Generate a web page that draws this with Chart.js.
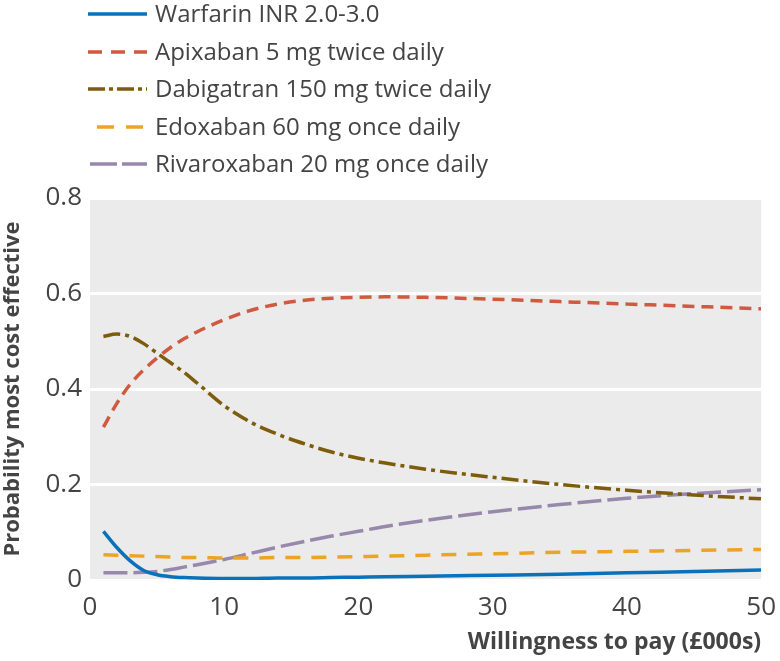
<!DOCTYPE html>
<html lang="en">
<head>
    <meta charset="UTF-8" />
    <title>Probability most cost effective</title>
    <script src="https://cdn.jsdelivr.net/npm/chart.js"></script>
    <style>
        html, body { margin: 0; padding: 0; background: #fff; }
        #wrap { width: 780px; height: 661px; }
    </style>
</head>
<body>
    <div id="wrap"><canvas id="ceacChart" width="780" height="661"></canvas></div>

    <script>
        // willingness to pay (£000s)
        const wtp = [1, 2, 3, 4, 5, 6, 7, 8, 10, 12, 14, 16, 18, 20, 22, 25, 30, 35, 40, 45, 50];

        const warfarin    = [0.102, 0.068, 0.040, 0.020, 0.011, 0.007, 0.005, 0.004, 0.003, 0.003, 0.004, 0.004, 0.005, 0.006, 0.007, 0.008, 0.010, 0.012, 0.015, 0.018, 0.021];
        const apixaban    = [0.320, 0.370, 0.410, 0.440, 0.465, 0.487, 0.505, 0.520, 0.545, 0.565, 0.578, 0.586, 0.590, 0.592, 0.593, 0.592, 0.588, 0.583, 0.578, 0.573, 0.568];
        const dabigatran  = [0.510, 0.515, 0.510, 0.495, 0.475, 0.455, 0.435, 0.412, 0.365, 0.330, 0.305, 0.285, 0.268, 0.255, 0.245, 0.232, 0.215, 0.200, 0.188, 0.178, 0.170];
        const edoxaban    = [0.053, 0.052, 0.051, 0.050, 0.049, 0.048, 0.047, 0.047, 0.046, 0.046, 0.047, 0.047, 0.048, 0.049, 0.050, 0.052, 0.055, 0.058, 0.060, 0.062, 0.064];
        const rivaroxaban = [0.015, 0.015, 0.015, 0.016, 0.018, 0.022, 0.027, 0.032, 0.043, 0.056, 0.069, 0.081, 0.092, 0.102, 0.112, 0.125, 0.143, 0.158, 0.171, 0.181, 0.189];

        const seriesLabels = [
            'Warfarin INR 2.0-3.0',
            'Apixaban 5 mg twice daily',
            'Dabigatran 150 mg twice daily',
            'Edoxaban 60 mg once daily',
            'Rivaroxaban 20 mg once daily'
        ];
        const seriesValues = [warfarin, apixaban, dabigatran, edoxaban, rivaroxaban];
        const yTicks = [0, 0.2, 0.4, 0.6, 0.8];
        const xTicks = [0, 10, 20, 30, 40, 50];

        const colors = ['#0a72bb', '#cf5a40', '#7d5c0c', '#eca426', '#9888ab'];
        const dashes = [[], [12, 7], [17, 5, 4, 5], [15, 11], [24, 6]];
        const legendDashes = [[], [14, 9], [17, 4, 4, 4], [17, 12], [27, 5]];
        const legendStart = [88, 88, 88, 97, 90];

        const textColor = '#444';
        const fontFamily = '"Open Sans", "Noto Sans", sans-serif';

        const datasets = seriesValues.map((vals, i) => ({
            label: seriesLabels[i],
            data: wtp.map((x, j) => ({ x: x, y: vals[j] })),
            borderColor: colors[i],
            borderDash: dashes[i],
            borderWidth: 3.5,
            pointRadius: 0,
            fill: false,
            cubicInterpolationMode: 'monotone'
        }));

        // grey panel behind the plot
        const panelBg = {
            id: 'panelBg',
            beforeDraw(chart) {
                const a = chart.chartArea;
                const ctx = chart.ctx;
                ctx.save();
                ctx.fillStyle = '#ebebeb';
                ctx.fillRect(a.left, a.top, a.right - a.left, a.bottom - a.top);
                ctx.restore();
            }
        };

        // stacked legend, one item per row
        const stackedLegend = {
            id: 'stackedLegend',
            afterDraw(chart) {
                const ctx = chart.ctx;
                const rowY = [14, 52, 89, 127, 164];
                ctx.save();
                ctx.font = '24px ' + fontFamily;
                ctx.textBaseline = 'middle';
                chart.data.datasets.forEach((ds, i) => {
                    ctx.strokeStyle = ds.borderColor;
                    ctx.lineWidth = 3.5;
                    ctx.setLineDash(legendDashes[i]);
                    ctx.beginPath();
                    ctx.moveTo(legendStart[i], rowY[i]);
                    ctx.lineTo(147, rowY[i]);
                    ctx.stroke();
                    ctx.setLineDash([]);
                    ctx.fillStyle = textColor;
                    ctx.fillText(ds.label, 155, rowY[i] + 1);
                });
                ctx.restore();
            }
        };

        new Chart(document.getElementById('ceacChart'), {
            type: 'line',
            data: { datasets: datasets },
            options: {
                responsive: false,
                animation: false,
                layout: { padding: { top: 198, right: 0, left: 0, bottom: 0 } },
                plugins: {
                    legend: { display: false },
                    tooltip: { enabled: false }
                },
                scales: {
                    x: {
                        type: 'linear',
                        min: 0,
                        max: 50,
                        afterBuildTicks: s => { s.ticks = xTicks.map(v => ({ value: v })); },
                        grid: { display: false },
                        border: { display: false },
                        ticks: {
                            color: textColor,
                            padding: 4,
                            font: { family: fontFamily, size: 26 }
                        },
                        title: {
                            display: true,
                            align: 'end',
                            text: 'Willingness to pay (£000s)',
                            color: textColor,
                            font: { family: fontFamily, size: 23, weight: 'bold' },
                            padding: { top: 8, bottom: 5 }
                        },
                        afterFit: s => { s.height = 81; }
                    },
                    y: {
                        min: 0,
                        max: 0.8,
                        afterBuildTicks: s => { s.ticks = yTicks.map(v => ({ value: v })); },
                        grid: { color: '#ffffff', lineWidth: 3, drawTicks: false },
                        border: { display: false },
                        ticks: {
                            color: textColor,
                            padding: 8,
                            font: { family: fontFamily, size: 26 },
                            callback: v => v === 0 ? '0' : v.toFixed(1)
                        },
                        title: {
                            display: true,
                            text: 'Probability most cost effective',
                            color: textColor,
                            font: { family: fontFamily, size: 22, weight: 'bold' },
                            padding: { top: 0, bottom: 0 }
                        },
                        afterFit: s => { s.width = 90; }
                    }
                }
            },
            plugins: [panelBg, stackedLegend]
        });
    </script>
</body>
</html>
